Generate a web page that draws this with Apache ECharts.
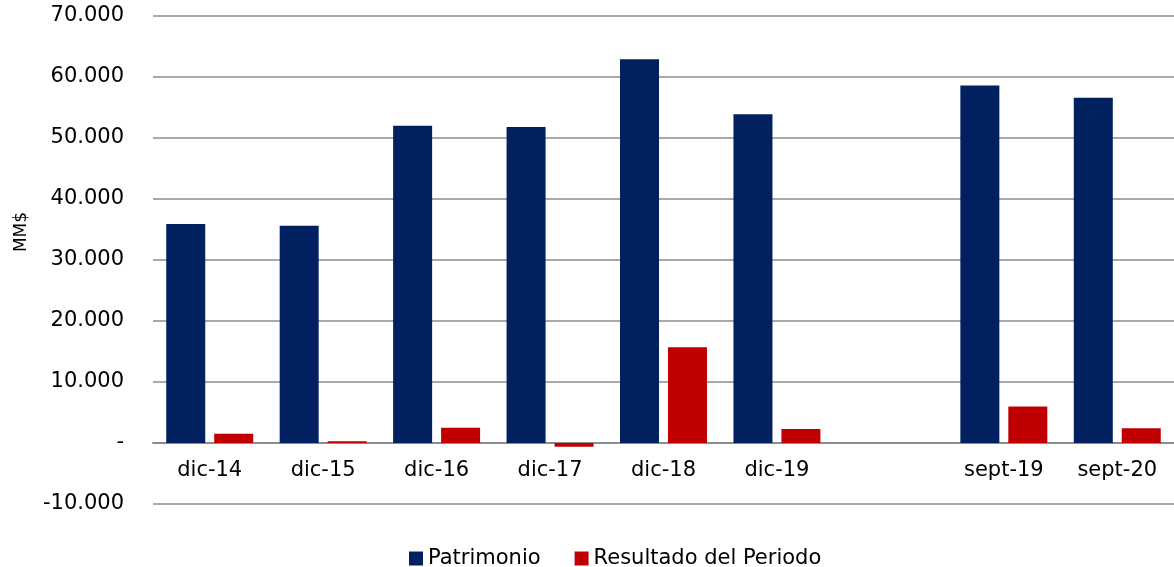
<!DOCTYPE html>
<html>
<head>
<meta charset="utf-8">
<script src="https://cdn.jsdelivr.net/npm/echarts@6/dist/echarts.min.js"></script>
<style>
  html, body { margin: 0; padding: 0; background: #fff; }
  #chart { width: 1174px; height: 567px; }
</style>
</head>
<body>
<div id="chart"></div>
<script>
// categorias (hay un hueco vacio entre dic-19 y sept-19)
var categories = ['dic-14', 'dic-15', 'dic-16', 'dic-17', 'dic-18', 'dic-19', '', 'sept-19', 'sept-20'];
var patrimonio = [35900, 35600, 52000, 51800, 62900, 53900, null, 58600, 56600];
var resultado = [1500, 300, 2500, -600, 15700, 2300, null, 6000, 2400];

function fmt(v) {
  if (v === 0) return '-';
  var s = Math.abs(v).toString().replace(/\B(?=(\d{3})+(?!\d))/g, '.');
  return (v < 0 ? '-' : '') + s;
}

var chart = echarts.init(document.getElementById('chart'));

var option = {
  backgroundColor: '#ffffff',
  animation: false,
  textStyle: { fontFamily: 'DejaVu Sans', color: '#000' },
  grid: { left: 153, right: 0, top: 16, bottom: 63, containLabel: false, outerBoundsMode: 'none' },
  legend: {
    top: 543,
    left: 404,
    itemWidth: 14,
    itemHeight: 14,
    itemGap: 34,
    icon: 'rect',
    textStyle: { fontSize: 21, color: '#000', fontFamily: 'DejaVu Sans' },
    data: ['Patrimonio', 'Resultado del Periodo']
  },
  xAxis: {
    type: 'category',
    data: categories,
    offset: -61,   // eje en la linea del cero
    axisLine: { onZero: false, lineStyle: { color: '#8c8c8c', width: 2 } },
    axisTick: { show: false },
    axisLabel: { fontSize: 21, color: '#000', margin: 17, interval: 0 }
  },
  yAxis: {
    type: 'value',
    min: -10000,
    max: 70000,
    interval: 10000,
    name: 'MM$',
    nameLocation: 'middle',
    nameGap: 123,
    nameTextStyle: { fontSize: 17, color: '#000', padding: [0, 0, 0, 56] },
    axisLine: { show: false },
    axisTick: { show: false },
    axisLabel: { fontSize: 21, color: '#000', margin: 29, formatter: fmt },
    splitLine: { lineStyle: { color: '#8c8c8c', width: 1.5 } }
  },
  series: [
    {
      name: 'Patrimonio',
      type: 'bar',
      data: patrimonio,
      barWidth: 39,
      barGap: '23%',
      itemStyle: { color: '#002060' }
    },
    {
      name: 'Resultado del Periodo',
      type: 'bar',
      data: resultado,
      barWidth: 39,
      itemStyle: { color: '#C00000' }
    }
  ]
};

chart.setOption(option);
</script>
</body>
</html>
